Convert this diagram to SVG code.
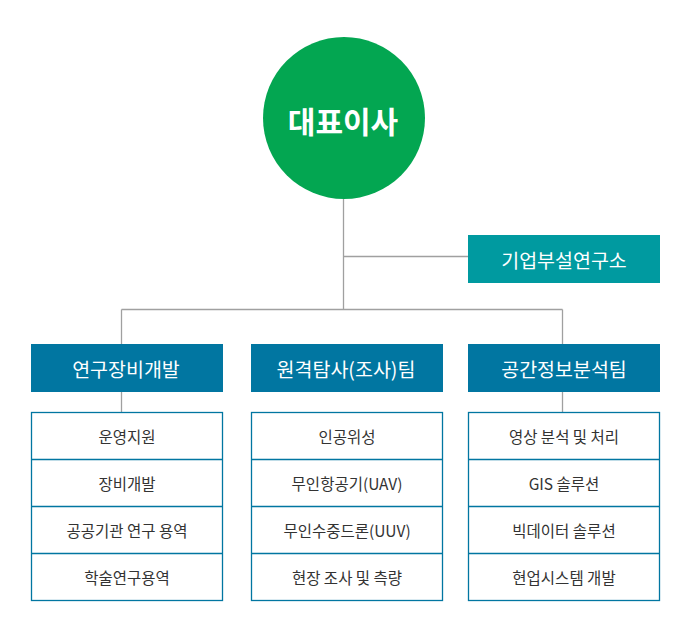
<svg xmlns="http://www.w3.org/2000/svg" width="694" height="619" viewBox="0 0 694 619">
<style>
text{font-family:"Noto Sans CJK KR","Noto Sans",sans-serif;text-anchor:middle;dominant-baseline:central}
.hd{fill:#0176a1}
.ht{fill:#fff;font-size:19.5px}
.lb{fill:#fff;stroke:#0176a1;stroke-width:1.3}
.lt{fill:#333;font-size:15.5px}
.cn{stroke:#a0a0a0;stroke-width:1.3;fill:none}
</style>
<rect width="694" height="619" fill="#fff"/>
<g id="connectors">
<path class="cn" d="M343.5 190V309.5M343.5 256.5H468M121.5 309.5H562.5M121.5 309.5V344M562.5 309.5V344M121.5 392V412M562.5 392V412"/>
</g>
<g id="ceo">
<circle cx="344" cy="118" r="81" fill="#03a651"/>
<text x="343" y="120" fill="#fff" font-size="30" font-weight="bold">대표이사</text>
</g>
<g id="lab">
<rect x="468" y="235" width="192" height="48" fill="#009aa0"/>
<text class="ht" x="564" y="259">기업부설연구소</text>
</g>
<g id="team1">
<rect class="hd" x="31" y="344" width="192" height="48"/>
<text class="ht" x="126" y="368">연구장비개발</text>
</g>
<g id="team2">
<rect class="hd" x="251" y="344" width="192" height="48"/>
<text class="ht" x="346" y="368">원격탐사(조사)팀</text>
</g>
<g id="team3">
<rect class="hd" x="468" y="344" width="192" height="48"/>
<text class="ht" x="564" y="368">공간정보분석팀</text>
</g>
<g id="list1">
<rect class="lb" x="31.5" y="412.5" width="191" height="188"/>
<path class="lb" d="M31.5 459.5H222.5M31.5 506.5H222.5M31.5 553.5H222.5"/>
<text class="lt" x="127" y="436">운영지원</text>
<text class="lt" x="127" y="483">장비개발</text>
<text class="lt" x="127" y="530">공공기관 연구 용역</text>
<text class="lt" x="127" y="577">학술연구용역</text>
</g>
<g id="list2">
<rect class="lb" x="251.5" y="412.5" width="191" height="188"/>
<path class="lb" d="M251.5 459.5H442.5M251.5 506.5H442.5M251.5 553.5H442.5"/>
<text class="lt" x="347" y="436">인공위성</text>
<text class="lt" x="347" y="483">무인항공기(UAV)</text>
<text class="lt" x="347" y="530">무인수중드론(UUV)</text>
<text class="lt" x="347" y="577">현장 조사 및 측량</text>
</g>
<g id="list3">
<rect class="lb" x="468.5" y="412.5" width="191" height="188"/>
<path class="lb" d="M468.5 459.5H659.5M468.5 506.5H659.5M468.5 553.5H659.5"/>
<text class="lt" x="564" y="436">영상 분석 및 처리</text>
<text class="lt" x="564" y="483">GIS 솔루션</text>
<text class="lt" x="564" y="530">빅데이터 솔루션</text>
<text class="lt" x="564" y="577">현업시스템 개발</text>
</g>
</svg>
